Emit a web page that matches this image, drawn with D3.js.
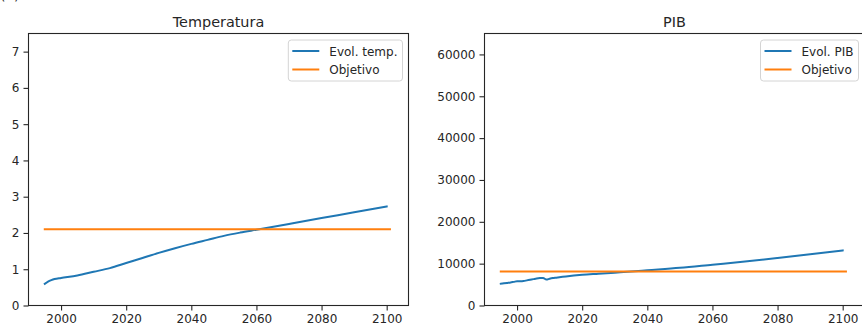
<!DOCTYPE html>
<html>
<head>
<meta charset="utf-8">
<script src="https://cdn.jsdelivr.net/npm/d3@7"></script>
<style>
  html, body { margin: 0; padding: 0; background: #fff; overflow: hidden; }
  svg { display: block; font-family: "DejaVu Sans", sans-serif; }
</style>
</head>
<body>
<svg id="chart" width="862" height="326"></svg>
<script>
// Temperature projection (°C anomaly)
const tempYears  = [1995, 1996, 1997, 1998, 2000, 2005, 2010, 2015, 2020, 2025, 2030, 2035, 2040, 2045, 2050, 2055, 2060, 2070, 2080, 2090, 2100];
const tempValues = [0.60, 0.66, 0.70, 0.73, 0.76, 0.83, 0.93, 1.03, 1.17, 1.31, 1.45, 1.58, 1.70, 1.81, 1.92, 2.01, 2.09, 2.25, 2.41, 2.57, 2.73];
const tempTarget = 2.1;

// GDP projection
const pibYears  = [1995, 1996, 1997, 1998, 1999, 2000, 2001, 2002, 2003, 2004, 2005, 2006, 2007, 2008, 2009, 2010, 2011, 2012, 2013, 2014, 2015, 2020, 2025, 2030, 2035, 2040, 2050, 2060, 2070, 2080, 2090, 2100];
const pibValues = [5200, 5300, 5400, 5500, 5650, 5800, 5800, 5850, 6000, 6150, 6300, 6450, 6550, 6600, 6200, 6400, 6550, 6650, 6750, 6850, 6950, 7350, 7600, 7850, 8100, 8400, 9000, 9750, 10500, 11350, 12250, 13150];
const pibTarget = 8100;

// Target lines span this period
const targetYears = [1995, 2101];

// Axis ticks
const xTicks    = [2000, 2020, 2040, 2060, 2080, 2100];
const tempTicks = [0, 1, 2, 3, 4, 5, 6, 7];
const pibTicks  = [0, 10000, 20000, 30000, 40000, 50000, 60000];

const titles  = ["Temperatura", "PIB"];
const legends = [["Evol. temp.", "Objetivo"], ["Evol. PIB", "Objetivo"]];

const BLUE = "#1f77b4", ORANGE = "#ff7f0e", INK = "#262626";

const svg = d3.select("#chart");

// Panel label, mostly above the visible area
svg.append("text").attr("x", 0).attr("y", 0).attr("font-size", 14).attr("fill", INK).text("(a)");

const panels = [
  { left: 28.5, right: 408.5, years: tempYears, values: tempValues, target: tempTarget,
    yMax: 7.5, yTicks: tempTicks, title: titles[0], legend: legends[0] },
  { left: 484.5, right: 864.5, years: pibYears, values: pibValues, target: pibTarget,
    yMax: 65000, yTicks: pibTicks, title: titles[1], legend: legends[1] }
];

const plotTop = 33.5, plotBottom = 305.5;

panels.forEach(p => {
  const x = d3.scaleLinear().domain([1990, 2106.7]).range([p.left, p.right]);
  const y = d3.scaleLinear().domain([0, p.yMax]).range([plotBottom, plotTop]);
  const g = svg.append("g");

  // Series
  const line = d3.line().x(d => x(d[0])).y(d => y(d[1])).curve(d3.curveMonotoneX);
  g.append("path")
    .datum(p.years.map((yr, i) => [yr, p.values[i]]))
    .attr("d", line).attr("fill", "none").attr("stroke", BLUE)
    .attr("stroke-width", 2).attr("stroke-linejoin", "round").attr("stroke-linecap", "square");

  g.append("path")
    .datum(targetYears.map(yr => [yr, p.target]))
    .attr("d", d3.line().x(d => x(d[0])).y(d => y(d[1])))
    .attr("fill", "none").attr("stroke", ORANGE)
    .attr("stroke-width", 2).attr("stroke-linecap", "square");

  // Axes
  const xAxis = g.append("g").attr("transform", `translate(0,${plotBottom})`)
    .call(d3.axisBottom(x).tickValues(xTicks).tickFormat(d3.format("d")).tickSize(5).tickPadding(4));
  const yAxis = g.append("g").attr("transform", `translate(${p.left},0)`)
    .call(d3.axisLeft(y).tickValues(p.yTicks).tickFormat(d3.format("d")).tickSize(5).tickPadding(4));
  [xAxis, yAxis].forEach(a => {
    a.select(".domain").remove();
    a.selectAll("line").attr("stroke", INK).attr("stroke-width", 1.1);
    a.selectAll("text").attr("fill", INK).attr("font-size", 12)
      .attr("font-family", "DejaVu Sans, sans-serif");
  });

  // Frame
  g.append("rect")
    .attr("x", p.left).attr("y", plotTop)
    .attr("width", p.right - p.left).attr("height", plotBottom - plotTop)
    .attr("fill", "none").attr("stroke", INK).attr("stroke-width", 1.1);

  // Title
  g.append("text")
    .attr("x", (p.left + p.right) / 2).attr("y", 26.5)
    .attr("text-anchor", "middle").attr("font-size", 14.4).attr("fill", INK)
    .text(p.title);

  // Legend (upper right)
  const lg = g.append("g");
  const box = lg.append("rect")
    .attr("y", 40).attr("height", 41)
    .attr("rx", 3).attr("ry", 3)
    .attr("fill", "#fff").attr("fill-opacity", 0.8)
    .attr("stroke", "#d4d4d4").attr("stroke-width", 1);
  const labels = p.legend.map((t, i) =>
    lg.append("text").attr("y", 55.5 + i * 18.5).attr("font-size", 12).attr("fill", INK).text(t));
  const textW = d3.max(labels, l => l.node().getComputedTextLength());
  const boxRight = p.right - 6;
  const boxLeft = boxRight - (4 + 27 + 10 + textW + 5);
  box.attr("x", boxLeft).attr("width", boxRight - boxLeft);
  labels.forEach((l, i) => {
    l.attr("x", boxLeft + 4 + 27 + 10);
    lg.append("line")
      .attr("x1", boxLeft + 4).attr("x2", boxLeft + 4 + 27)
      .attr("y1", 51 + i * 18.5).attr("y2", 51 + i * 18.5)
      .attr("stroke", i === 0 ? BLUE : ORANGE).attr("stroke-width", 2);
  });
});
</script>
</body>
</html>
